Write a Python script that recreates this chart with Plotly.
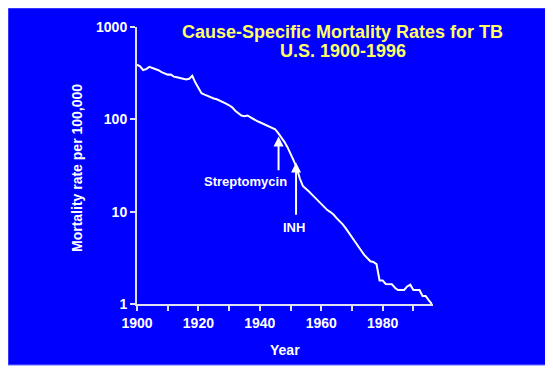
import plotly.graph_objects as go
import math

years = list(range(1900, 1997))
rates = [390, 375, 342, 350, 370, 360, 350, 340, 325, 312,
         305, 306, 290, 286, 282, 276, 270, 275, 296, 250,
         220, 192, 185, 178, 172, 168, 165, 160, 154, 148,
         142, 135, 124, 116, 110, 108, 110, 105, 100, 96,
         93, 90, 87, 85, 82, 78, 71, 64, 57, 50,
         43, 36, 30, 23, 19, 17.5, 16.5, 15.3, 14.2, 13.3,
         12.3, 11.2, 10.4, 9.9, 9.3, 8.5, 7.9, 7.3, 6.6, 5.9,
         5.3, 4.6, 4.2, 3.8, 3.4, 3.1, 2.9, 2.85, 2.7, 1.8,
         1.8, 1.65, 1.64, 1.64, 1.5, 1.42, 1.42, 1.42, 1.55, 1.62,
         1.42, 1.42, 1.42, 1.22, 1.22, 1.1, 1.0]

x_tickvals = [1900, 1910, 1920, 1930, 1940, 1950, 1960, 1970, 1980, 1990]
x_ticktext = ["1900", "", "1920", "", "1940", "", "1960", "", "1980", ""]
y_tickvals = [1, 10, 100, 1000]
y_ticktext = ["1", "10", "100", "1000"]

title_line1 = "Cause-Specific Mortality Rates for TB"
title_line2 = "U.S. 1900-1996"
x_title = "Year"
y_title = "Mortality rate per 100,000"

# event arrows: (label, year, tip value, tail value)
events = [("Streptomycin", 1946.1, 65, 27),
          ("INH", 1951.8, 34, 8.9)]

OFF = 8  # page body margin
W, H = 553 - OFF, 371 - OFF
L, R, T, B = 137 - OFF, 433 - OFF, 27 - OFF, 304 - OFF

def px(xp):
    return (xp - OFF - L) / (R - L)

def py(yp):
    return (B - (yp - OFF)) / (B - T)

FONT = "Liberation Sans, Arial, sans-serif"
BLUE = "#0000FF"
WHITE = "#FFFFFF"
AXIS = "#E0E0F0"
YELLOW = "#FFFF66"

fig = go.Figure()
fig.add_trace(go.Scatter(x=years, y=rates, mode="lines",
                         line=dict(color=WHITE, width=2), hoverinfo="skip",
                         showlegend=False, cliponaxis=False))

annotations = [
    dict(text=title_line1, x=px(342), y=py(32), xref="paper", yref="paper",
         showarrow=False, xanchor="center", yanchor="middle",
         font=dict(family=FONT, size=18, color=YELLOW, weight="bold")),
    dict(text=title_line2, x=px(343), y=py(51), xref="paper", yref="paper",
         showarrow=False, xanchor="center", yanchor="middle",
         font=dict(family=FONT, size=18, color=YELLOW, weight="bold")),
    dict(text=x_title, x=px(285), y=py(350), xref="paper", yref="paper",
         showarrow=False, xanchor="center", yanchor="middle",
         font=dict(family=FONT, size=14, color=WHITE, weight="bold")),
    dict(text=y_title, x=px(77), y=py(168), xref="paper", yref="paper",
         showarrow=False, xanchor="center", yanchor="middle", textangle=-90,
         font=dict(family=FONT, size=14, color=WHITE, weight="bold")),
]

label_pos = {"Streptomycin": (245, 181), "INH": (294, 227)}
for name, yr, tip, tail in events:
    annotations.append(dict(
        text="", x=yr, y=math.log10(tip), xref="x", yref="y",
        ax=yr, ay=math.log10(tail), axref="x", ayref="y",
        showarrow=True, arrowhead=2, arrowsize=1, arrowwidth=2,
        arrowcolor=WHITE, standoff=0, startstandoff=0))
    lx, ly = label_pos[name]
    annotations.append(dict(
        text=name, x=px(lx), y=py(ly), xref="paper", yref="paper",
        showarrow=False, xanchor="center", yanchor="middle",
        font=dict(family=FONT, size=13, color=WHITE, weight="bold")))

fig.update_layout(
    width=W, height=H,
    margin=dict(l=L, r=W - R, t=T, b=H - B, pad=0),
    paper_bgcolor=WHITE, plot_bgcolor="rgba(0,0,0,0)",
    showlegend=False,
    annotations=annotations,
    shapes=[dict(type="rect", xref="paper", yref="paper",
                 x0=px(8), x1=px(546), y0=py(365), y1=py(8),
                 fillcolor=BLUE, line=dict(color="#6F6FFF", width=1),
                 layer="below")],
    xaxis=dict(range=[1900, 1996.4], showgrid=False, zeroline=False,
               showline=True, linecolor=AXIS, linewidth=2,
               ticks="outside", ticklen=5, tickwidth=2, tickcolor=AXIS,
               tickvals=x_tickvals, ticktext=x_ticktext,
               tickfont=dict(family=FONT, size=14, color=WHITE, weight="bold")),
    yaxis=dict(type="log", range=[0, 3], showgrid=False, zeroline=False,
               showline=True, linecolor=AXIS, linewidth=2,
               ticks="outside", ticklen=5, tickwidth=2, tickcolor=AXIS,
               tickvals=y_tickvals, ticktext=y_ticktext,
               tickfont=dict(family=FONT, size=14, color=WHITE, weight="bold")),
)

fig.write_html("out.html")
